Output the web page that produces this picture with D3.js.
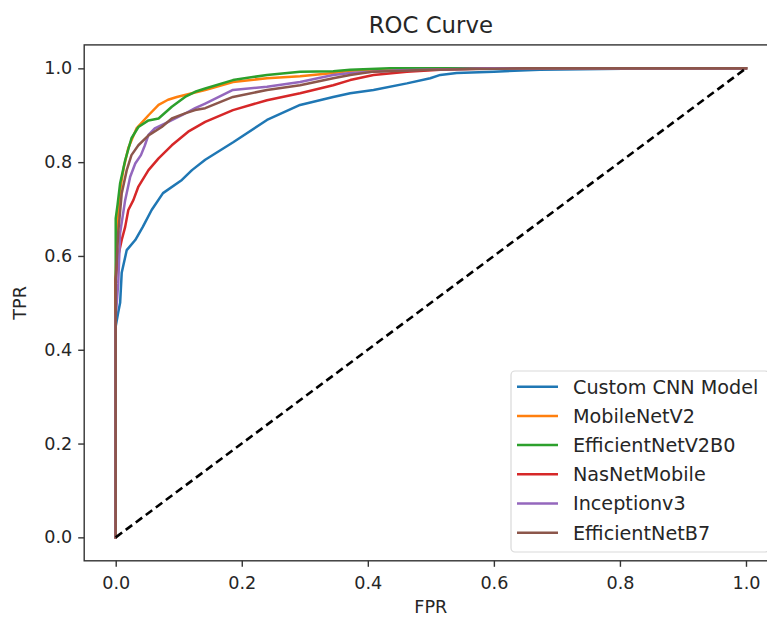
<!DOCTYPE html>
<html>
<head>
<meta charset="utf-8">
<script src="https://cdn.jsdelivr.net/npm/d3@7"></script>
<style>
  html, body { margin: 0; padding: 0; background: #fff; }
  svg { display: block; font-family: "DejaVu Sans", sans-serif; }
</style>
</head>
<body>
<svg id="chart" width="767" height="618"></svg>
<script>
// ---------------- data ----------------
const seriesNames = ["Custom CNN Model", "MobileNetV2", "EfficientNetV2B0", "NasNetMobile", "Inceptionv3", "EfficientNetB7"];
const seriesColors = ["#1f77b4", "#ff7f0e", "#2ca02c", "#d62728", "#9467bd", "#8c564b"];

const fprCustomCNN = [0, 0, 0.004, 0.007, 0.0095, 0.0175, 0.031, 0.043, 0.057, 0.075, 0.105, 0.121, 0.142, 0.187, 0.240, 0.2925, 0.345, 0.372, 0.409, 0.462, 0.499, 0.515, 0.541, 0.60, 0.673, 0.87, 1.0];
const tprCustomCNN = [0, 0.45, 0.48, 0.50, 0.564, 0.6125, 0.634, 0.662, 0.698, 0.734, 0.762, 0.783, 0.805, 0.843, 0.890, 0.922, 0.939, 0.947, 0.954, 0.968, 0.979, 0.986, 0.990, 0.993, 0.997, 1.0, 1.0];

const fprMobileNetV2 = [0, 0, 0.003, 0.008, 0.013, 0.02, 0.033, 0.052, 0.068, 0.083, 0.097, 0.121, 0.142, 0.186, 0.240, 0.2925, 0.345, 0.372, 0.45, 0.6, 1.0];
const tprMobileNetV2 = [0, 0.55, 0.68, 0.75, 0.79, 0.83, 0.872, 0.900, 0.922, 0.933, 0.939, 0.947, 0.954, 0.971, 0.979, 0.983, 0.990, 0.995, 0.998, 1.0, 1.0];

const fprEffV2B0 = [0, 0, 0.003, 0.007, 0.015, 0.025, 0.036, 0.052, 0.068, 0.089, 0.110, 0.126, 0.142, 0.186, 0.24, 0.2925, 0.345, 0.372, 0.435, 1.0];
const tprEffV2B0 = [0, 0.68, 0.71, 0.755, 0.804, 0.851, 0.875, 0.889, 0.893, 0.918, 0.939, 0.950, 0.957, 0.975, 0.986, 0.993, 0.994, 0.997, 1.0, 1.0];

const fprNasNet = [0, 0, 0.004, 0.0095, 0.015, 0.020, 0.028, 0.036, 0.052, 0.068, 0.089, 0.115, 0.142, 0.186, 0.24, 0.2925, 0.345, 0.372, 0.409, 0.462, 0.515, 0.6, 1.0];
const tprNasNet = [0, 0.55, 0.60, 0.634, 0.662, 0.698, 0.719, 0.748, 0.783, 0.808, 0.836, 0.865, 0.886, 0.911, 0.932, 0.947, 0.964, 0.975, 0.986, 0.993, 0.997, 1.0, 1.0];

const fprInception = [0, 0, 0.004, 0.007, 0.015, 0.023, 0.031, 0.040, 0.046, 0.052, 0.062, 0.0835, 0.105, 0.126, 0.142, 0.186, 0.24, 0.2925, 0.345, 0.372, 0.45, 0.6, 1.0];
const tprInception = [0, 0.47, 0.542, 0.649, 0.719, 0.769, 0.797, 0.815, 0.835, 0.858, 0.872, 0.886, 0.900, 0.915, 0.925, 0.954, 0.961, 0.971, 0.986, 0.990, 0.996, 1.0, 1.0];

const fprEffB7 = [0, 0, 0.004, 0.0095, 0.0175, 0.025, 0.036, 0.052, 0.073, 0.089, 0.110, 0.126, 0.142, 0.186, 0.24, 0.2925, 0.345, 0.372, 0.409, 0.5, 0.65, 1.0];
const tprEffB7 = [0, 0.55, 0.65, 0.733, 0.783, 0.815, 0.836, 0.857, 0.875, 0.893, 0.904, 0.911, 0.915, 0.939, 0.954, 0.964, 0.979, 0.986, 0.993, 0.997, 1.0, 1.0];

const diagFpr = [0, 1];
const diagTpr = [0, 1];

const xTickValues = [0.0, 0.2, 0.4, 0.6, 0.8, 1.0];
const yTickValues = [0.0, 0.2, 0.4, 0.6, 0.8, 1.0];

const allFpr = [fprCustomCNN, fprMobileNetV2, fprEffV2B0, fprNasNet, fprInception, fprEffB7];
const allTpr = [tprCustomCNN, tprMobileNetV2, tprEffV2B0, tprNasNet, tprInception, tprEffB7];

// ---------------- layout ----------------
const svg = d3.select("#chart");
const plotLeft = 84.2, plotRight = 777.5, plotTop = 44.9, plotBottom = 560.8;

const x = d3.scaleLinear().domain([-0.05, 1.05]).range([plotLeft, plotRight]);
const y = d3.scaleLinear().domain([-0.05, 1.05]).range([plotBottom, plotTop]);

const textColor = "#262626";

// axes frame (spines)
svg.append("rect")
  .attr("x", plotLeft).attr("y", plotTop)
  .attr("width", plotRight - plotLeft).attr("height", plotBottom - plotTop)
  .attr("fill", "none").attr("stroke", "#333").attr("stroke-width", 1.4);

// curves
const line = d3.line().x(d => x(d[0])).y(d => y(d[1]));

allFpr.forEach((fpr, i) => {
  const pts = fpr.map((v, j) => [v, allTpr[i][j]]);
  svg.append("path")
    .datum(pts)
    .attr("d", line)
    .attr("fill", "none")
    .attr("stroke", seriesColors[i])
    .attr("stroke-width", 2.5)
    .attr("stroke-linejoin", "round")
    .attr("stroke-linecap", "square");
});

// diagonal
svg.append("path")
  .datum(diagFpr.map((v, j) => [v, diagTpr[j]]))
  .attr("d", line)
  .attr("fill", "none")
  .attr("stroke", "#000")
  .attr("stroke-width", 2.6)
  .attr("stroke-dasharray", "8,4.5");

// axes
const xAxis = d3.axisBottom(x).tickValues(xTickValues).tickFormat(d3.format(".1f")).tickSizeOuter(0).tickSize(6).tickPadding(6);
const yAxis = d3.axisLeft(y).tickValues(yTickValues).tickFormat(d3.format(".1f")).tickSizeOuter(0).tickSize(6).tickPadding(6);

const gx = svg.append("g").attr("transform", `translate(0,${plotBottom})`).call(xAxis);
const gy = svg.append("g").attr("transform", `translate(${plotLeft},0)`).call(yAxis);
[gx, gy].forEach(g => {
  g.select(".domain").remove();
  g.selectAll(".tick line").attr("stroke", "#333").attr("stroke-width", 1.4);
  g.selectAll(".tick text").attr("fill", textColor).style("font-size", "17.6px").style("font-family", "DejaVu Sans");
});
gx.selectAll(".tick text").attr("dy", "0.9em");

// title & labels
svg.append("text")
  .attr("x", (plotLeft + plotRight) / 2).attr("y", 33)
  .attr("text-anchor", "middle")
  .attr("fill", textColor)
  .style("font-size", "22.8px")
  .text("ROC Curve");

svg.append("text")
  .attr("x", (plotLeft + plotRight) / 2).attr("y", 613)
  .attr("text-anchor", "middle")
  .attr("fill", textColor)
  .style("font-size", "17.6px")
  .text("FPR");

svg.append("text")
  .attr("transform", `translate(25.5,${(plotTop + plotBottom) / 2}) rotate(-90)`)
  .attr("text-anchor", "middle")
  .attr("fill", textColor)
  .style("font-size", "17.6px")
  .text("TPR");

// legend
const legend = svg.append("g");
legend.append("rect")
  .attr("x", 511).attr("y", 371)
  .attr("width", 258).attr("height", 181)
  .attr("rx", 4).attr("ry", 4)
  .attr("fill", "#fff").attr("fill-opacity", 0.85)
  .attr("stroke", "#d9d9d9").attr("stroke-width", 1.2);

seriesNames.forEach((name, i) => {
  const cy = 386.7 + i * 29.2;
  legend.append("line")
    .attr("x1", 517).attr("x2", 558)
    .attr("y1", cy).attr("y2", cy)
    .attr("stroke", seriesColors[i]).attr("stroke-width", 2.5);
  legend.append("text")
    .attr("x", 573).attr("y", cy)
    .attr("dy", "0.36em")
    .attr("fill", textColor)
    .style("font-size", "19.2px")
    .text(name);
});
</script>
</body>
</html>
